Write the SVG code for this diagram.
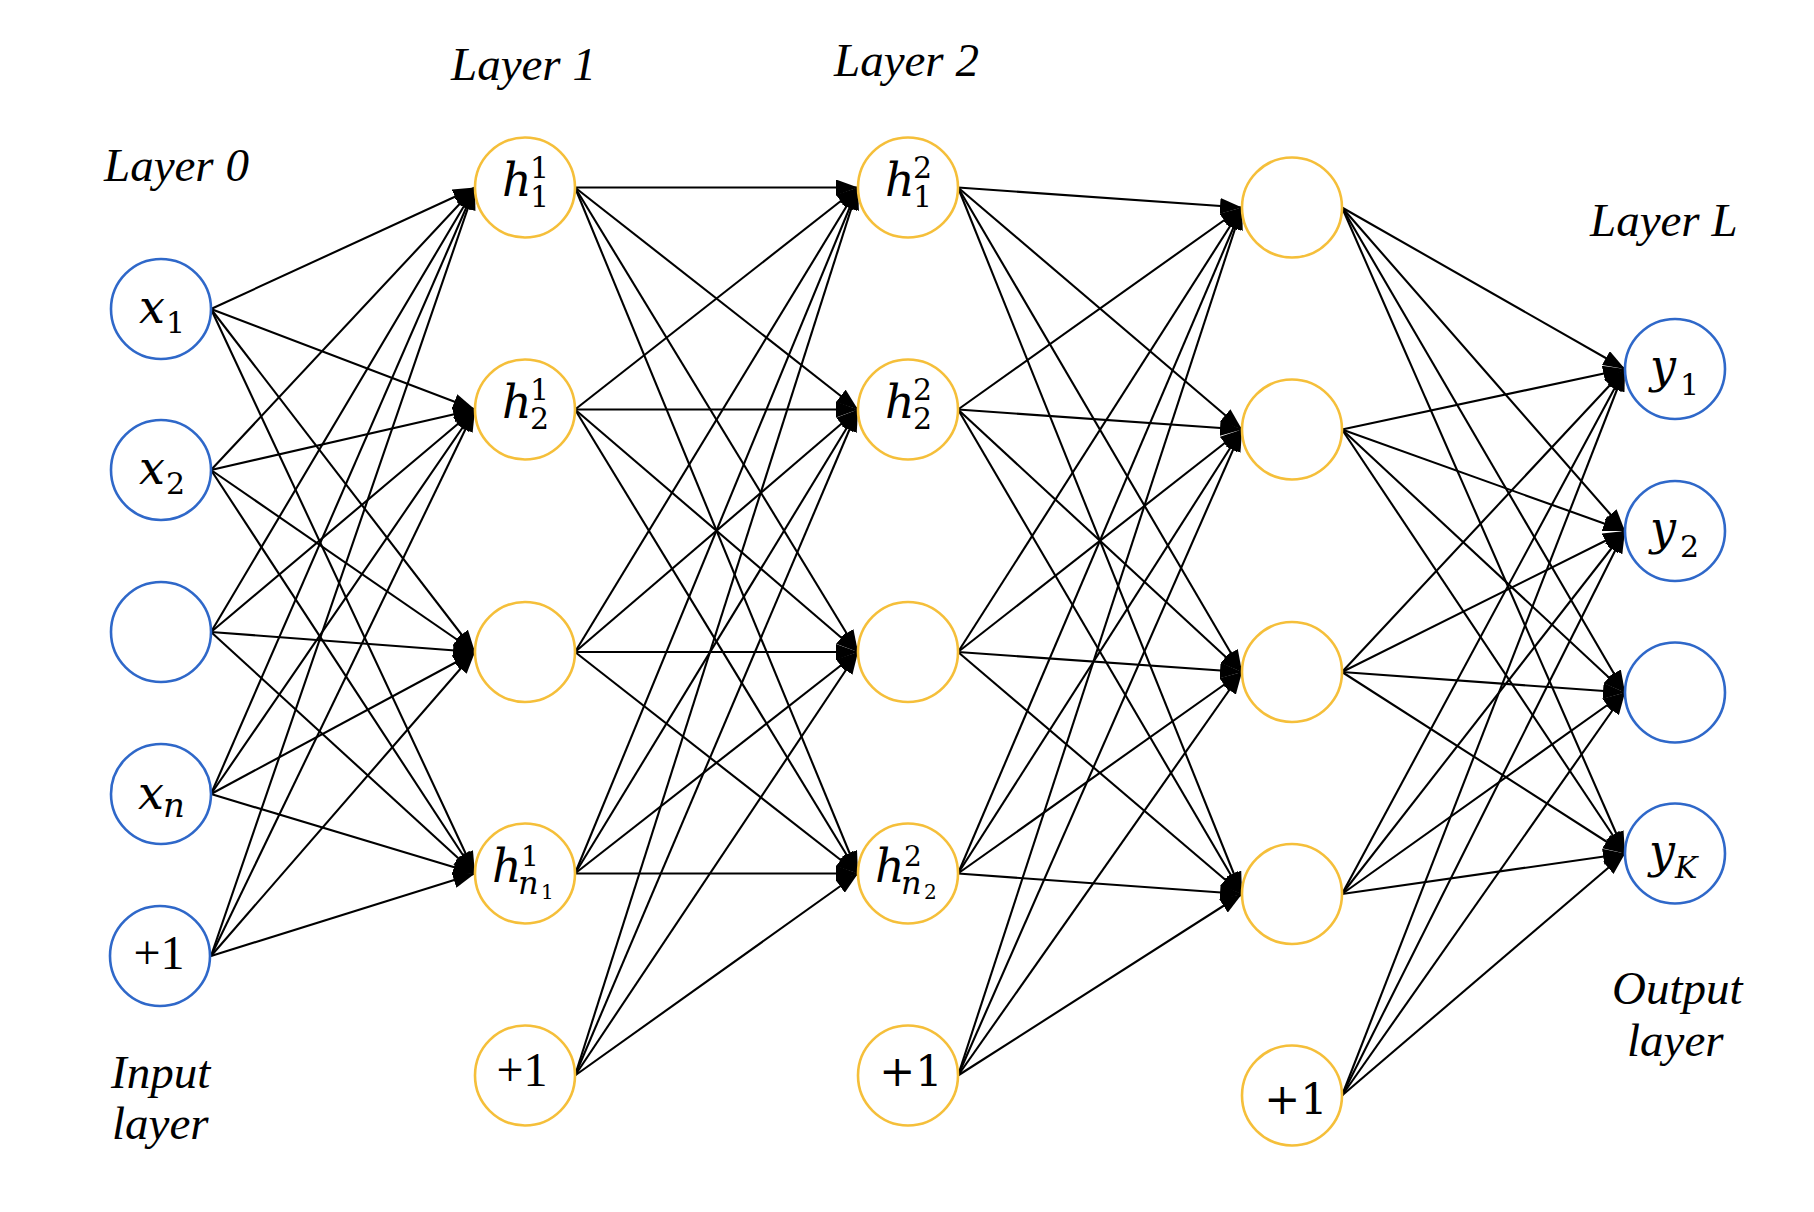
<svg xmlns="http://www.w3.org/2000/svg" width="1814" height="1212" viewBox="0 0 1814 1212">
<style>
.e{stroke:#000;stroke-width:2.1;fill:none;marker-end:url(#arr)}
.b{fill:#fff;stroke:#2F68C9;stroke-width:2.6}
.o{fill:#fff;stroke:#F5BF3A;stroke-width:2.6}
.t{font-family:"Liberation Serif","Times New Roman",serif;font-style:italic;font-size:47px;fill:#000}
.lb{font-family:"DejaVu Serif",serif;fill:#000}
.m{font-style:italic;font-size:46px}
.s{font-size:30px}
.si{font-style:italic;font-size:30px}
.ss{font-size:20px}
.p1{font-family:"Liberation Serif","Times New Roman",serif;font-size:48px;fill:#000;text-anchor:middle}
.p2{font-family:"DejaVu Serif",serif;font-size:43px;fill:#000;text-anchor:middle}
</style>
<defs>
<marker id="arr" viewBox="0 0 22 16" refX="22" refY="8" markerWidth="22" markerHeight="16" orient="auto" markerUnits="userSpaceOnUse">
<path d="M0,0 L22,8 L0,16 z" fill="#000"/>
</marker>
</defs>
<rect width="1814" height="1212" fill="#fff"/>
<g id="connectors">
<line class="e" x1="211" y1="309" x2="475" y2="187.5"/>
<line class="e" x1="211" y1="309" x2="475" y2="409.5"/>
<line class="e" x1="211" y1="309" x2="475" y2="652"/>
<line class="e" x1="211" y1="309" x2="475" y2="873.5"/>
<line class="e" x1="211" y1="470" x2="475" y2="187.5"/>
<line class="e" x1="211" y1="470" x2="475" y2="409.5"/>
<line class="e" x1="211" y1="470" x2="475" y2="652"/>
<line class="e" x1="211" y1="470" x2="475" y2="873.5"/>
<line class="e" x1="211" y1="632" x2="475" y2="187.5"/>
<line class="e" x1="211" y1="632" x2="475" y2="409.5"/>
<line class="e" x1="211" y1="632" x2="475" y2="652"/>
<line class="e" x1="211" y1="632" x2="475" y2="873.5"/>
<line class="e" x1="211" y1="794" x2="475" y2="187.5"/>
<line class="e" x1="211" y1="794" x2="475" y2="409.5"/>
<line class="e" x1="211" y1="794" x2="475" y2="652"/>
<line class="e" x1="211" y1="794" x2="475" y2="873.5"/>
<line class="e" x1="211" y1="956" x2="475" y2="187.5"/>
<line class="e" x1="211" y1="956" x2="475" y2="409.5"/>
<line class="e" x1="211" y1="956" x2="475" y2="652"/>
<line class="e" x1="211" y1="956" x2="475" y2="873.5"/>

<line class="e" x1="575" y1="187.5" x2="858" y2="187.5"/>
<line class="e" x1="575" y1="187.5" x2="858" y2="409.5"/>
<line class="e" x1="575" y1="187.5" x2="858" y2="652"/>
<line class="e" x1="575" y1="187.5" x2="858" y2="873.5"/>
<line class="e" x1="575" y1="409.5" x2="858" y2="187.5"/>
<line class="e" x1="575" y1="409.5" x2="858" y2="409.5"/>
<line class="e" x1="575" y1="409.5" x2="858" y2="652"/>
<line class="e" x1="575" y1="409.5" x2="858" y2="873.5"/>
<line class="e" x1="575" y1="652" x2="858" y2="187.5"/>
<line class="e" x1="575" y1="652" x2="858" y2="409.5"/>
<line class="e" x1="575" y1="652" x2="858" y2="652"/>
<line class="e" x1="575" y1="652" x2="858" y2="873.5"/>
<line class="e" x1="575" y1="873.5" x2="858" y2="187.5"/>
<line class="e" x1="575" y1="873.5" x2="858" y2="409.5"/>
<line class="e" x1="575" y1="873.5" x2="858" y2="652"/>
<line class="e" x1="575" y1="873.5" x2="858" y2="873.5"/>
<line class="e" x1="575" y1="1075.5" x2="858" y2="187.5"/>
<line class="e" x1="575" y1="1075.5" x2="858" y2="409.5"/>
<line class="e" x1="575" y1="1075.5" x2="858" y2="652"/>
<line class="e" x1="575" y1="1075.5" x2="858" y2="873.5"/>

<line class="e" x1="958" y1="187.5" x2="1242" y2="207.5"/>
<line class="e" x1="958" y1="187.5" x2="1242" y2="429.5"/>
<line class="e" x1="958" y1="187.5" x2="1242" y2="672"/>
<line class="e" x1="958" y1="187.5" x2="1242" y2="894"/>
<line class="e" x1="958" y1="409.5" x2="1242" y2="207.5"/>
<line class="e" x1="958" y1="409.5" x2="1242" y2="429.5"/>
<line class="e" x1="958" y1="409.5" x2="1242" y2="672"/>
<line class="e" x1="958" y1="409.5" x2="1242" y2="894"/>
<line class="e" x1="958" y1="652" x2="1242" y2="207.5"/>
<line class="e" x1="958" y1="652" x2="1242" y2="429.5"/>
<line class="e" x1="958" y1="652" x2="1242" y2="672"/>
<line class="e" x1="958" y1="652" x2="1242" y2="894"/>
<line class="e" x1="958" y1="873.5" x2="1242" y2="207.5"/>
<line class="e" x1="958" y1="873.5" x2="1242" y2="429.5"/>
<line class="e" x1="958" y1="873.5" x2="1242" y2="672"/>
<line class="e" x1="958" y1="873.5" x2="1242" y2="894"/>
<line class="e" x1="958" y1="1075.5" x2="1242" y2="207.5"/>
<line class="e" x1="958" y1="1075.5" x2="1242" y2="429.5"/>
<line class="e" x1="958" y1="1075.5" x2="1242" y2="672"/>
<line class="e" x1="958" y1="1075.5" x2="1242" y2="894"/>

<line class="e" x1="1342" y1="207.5" x2="1625" y2="369"/>
<line class="e" x1="1342" y1="207.5" x2="1625" y2="531"/>
<line class="e" x1="1342" y1="207.5" x2="1625" y2="692.5"/>
<line class="e" x1="1342" y1="207.5" x2="1625" y2="853.5"/>
<line class="e" x1="1342" y1="429.5" x2="1625" y2="369"/>
<line class="e" x1="1342" y1="429.5" x2="1625" y2="531"/>
<line class="e" x1="1342" y1="429.5" x2="1625" y2="692.5"/>
<line class="e" x1="1342" y1="429.5" x2="1625" y2="853.5"/>
<line class="e" x1="1342" y1="672" x2="1625" y2="369"/>
<line class="e" x1="1342" y1="672" x2="1625" y2="531"/>
<line class="e" x1="1342" y1="672" x2="1625" y2="692.5"/>
<line class="e" x1="1342" y1="672" x2="1625" y2="853.5"/>
<line class="e" x1="1342" y1="894" x2="1625" y2="369"/>
<line class="e" x1="1342" y1="894" x2="1625" y2="531"/>
<line class="e" x1="1342" y1="894" x2="1625" y2="692.5"/>
<line class="e" x1="1342" y1="894" x2="1625" y2="853.5"/>
<line class="e" x1="1342" y1="1095.5" x2="1625" y2="369"/>
<line class="e" x1="1342" y1="1095.5" x2="1625" y2="531"/>
<line class="e" x1="1342" y1="1095.5" x2="1625" y2="692.5"/>
<line class="e" x1="1342" y1="1095.5" x2="1625" y2="853.5"/>
</g>

<g id="titles">
<text class="t" x="104" y="181">Layer 0</text>
<text class="t" x="451" y="80">Layer 1</text>
<text class="t" x="834" y="76">Layer 2</text>
<text class="t" x="1590" y="236">Layer L</text>
<text class="t" x="111" y="1088">Input</text>
<text class="t" x="112" y="1139">layer</text>
<text class="t" x="1612" y="1004">Output</text>
<text class="t" x="1627" y="1056">layer</text>
</g>

<g id="node-x1"><circle class="b" cx="161" cy="309" r="50"/><text class="lb"><tspan class="m" x="139" y="323">x</tspan><tspan class="s" x="166" y="333">1</tspan></text></g>
<g id="node-x2"><circle class="b" cx="161" cy="470" r="50"/><text class="lb"><tspan class="m" x="139" y="484">x</tspan><tspan class="s" x="166" y="494">2</tspan></text></g>
<g id="node-x3"><circle class="b" cx="161" cy="632" r="50"/></g>
<g id="node-xn"><circle class="b" cx="161" cy="794" r="50"/><text class="lb"><tspan class="m" x="138" y="809">x</tspan><tspan class="si" x="163" y="817" style="font-size:34px">n</tspan></text></g>
<g id="node-b0"><circle class="b" cx="160" cy="956" r="50"/><text class="p1" x="159" y="969">+1</text></g>

<g id="node-h11"><circle class="o" cx="525" cy="187.5" r="50"/><text class="lb"><tspan class="m" x="502" y="196">h</tspan><tspan class="s" x="530" y="178">1</tspan><tspan class="s" x="530" y="207">1</tspan></text></g>
<g id="node-h12"><circle class="o" cx="525" cy="409.5" r="50"/><text class="lb"><tspan class="m" x="502" y="418">h</tspan><tspan class="s" x="530" y="400">1</tspan><tspan class="s" x="530" y="429">2</tspan></text></g>
<g id="node-h13"><circle class="o" cx="525" cy="652" r="50"/></g>
<g id="node-h1n"><circle class="o" cx="525" cy="873.5" r="50"/><text class="lb"><tspan class="m" x="492" y="882">h</tspan><tspan class="s" x="521" y="866" style="font-size:28px">1</tspan><tspan class="si" x="518" y="894" style="font-size:32px">n</tspan><tspan class="ss" x="541" y="899">1</tspan></text></g>
<g id="node-b1"><circle class="o" cx="525" cy="1075.5" r="50"/><text class="p1" x="522" y="1086">+1</text></g>

<g id="node-h21"><circle class="o" cx="908" cy="187.5" r="50"/><text class="lb"><tspan class="m" x="885" y="196">h</tspan><tspan class="s" x="913" y="178">2</tspan><tspan class="s" x="913" y="207">1</tspan></text></g>
<g id="node-h22"><circle class="o" cx="908" cy="409.5" r="50"/><text class="lb"><tspan class="m" x="885" y="418">h</tspan><tspan class="s" x="913" y="400">2</tspan><tspan class="s" x="913" y="429">2</tspan></text></g>
<g id="node-h23"><circle class="o" cx="908" cy="652" r="50"/></g>
<g id="node-h2n"><circle class="o" cx="908" cy="873.5" r="50"/><text class="lb"><tspan class="m" x="875" y="882">h</tspan><tspan class="s" x="904" y="866" style="font-size:28px">2</tspan><tspan class="si" x="901" y="894" style="font-size:32px">n</tspan><tspan class="ss" x="924" y="899">2</tspan></text></g>
<g id="node-b2"><circle class="o" cx="908" cy="1075.5" r="50"/><text class="p2" x="911" y="1086">+1</text></g>

<g id="node-h31"><circle class="o" cx="1292" cy="207.5" r="50"/></g>
<g id="node-h32"><circle class="o" cx="1292" cy="429.5" r="50"/></g>
<g id="node-h33"><circle class="o" cx="1292" cy="672" r="50"/></g>
<g id="node-h34"><circle class="o" cx="1292" cy="894" r="50"/></g>
<g id="node-b3"><circle class="o" cx="1292" cy="1095.5" r="50"/><text class="p2" x="1296" y="1114">+1</text></g>

<g id="node-y1"><circle class="b" cx="1675" cy="369" r="50"/><text class="lb"><tspan class="m" x="1650" y="382">y</tspan><tspan class="s" x="1680" y="395">1</tspan></text></g>
<g id="node-y2"><circle class="b" cx="1675" cy="531" r="50"/><text class="lb"><tspan class="m" x="1650" y="544">y</tspan><tspan class="s" x="1680" y="557">2</tspan></text></g>
<g id="node-y3"><circle class="b" cx="1675" cy="692.5" r="50"/></g>
<g id="node-yK"><circle class="b" cx="1675" cy="853.5" r="50"/><text class="lb"><tspan class="m" x="1649" y="867">y</tspan><tspan class="si" x="1675" y="878">K</tspan></text></g>
</svg>
